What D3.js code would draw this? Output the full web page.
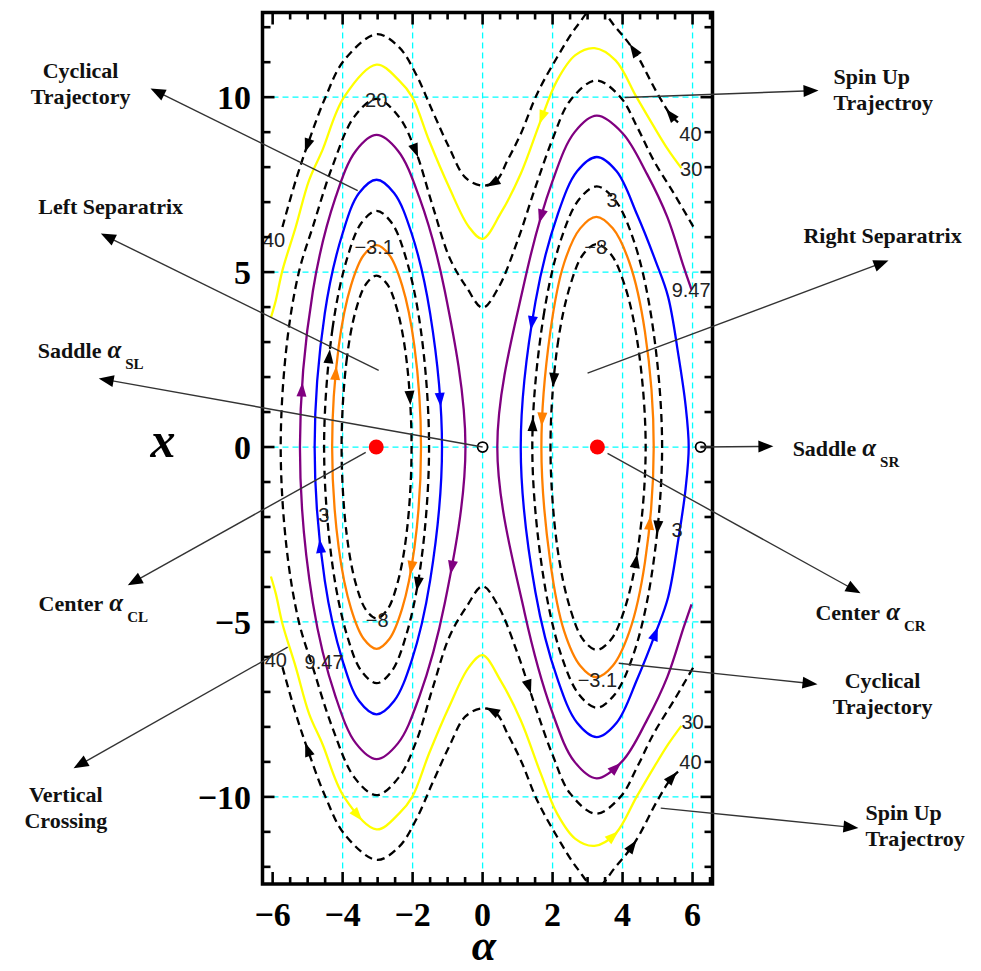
<!DOCTYPE html>
<html>
<head>
<meta charset="utf-8">
<title>Phase portrait</title>
<script src="https://cdn.jsdelivr.net/npm/d3@7/dist/d3.min.js"></script>
<style>
  body { margin: 0; background: #fff; }
  text { font-family: "Liberation Serif", "Times New Roman", serif; }
</style>
</head>
<body>
<script>
// ---- values, as [alpha, x] ----
let alphaTicks = [-6, -4, -2, 0, 2, 4, 6];
let alphaTickLabels = ['\u22126', '\u22124', '\u22122', '0', '2', '4', '6'];
let xTicks = [-10, -5, 0, 5, 10];
let xTickLabels = ['\u221210', '\u22125', '0', '5', '10'];
let gridAlpha = [-4, -2, 0, 2, 4, 6];
let gridX = [-10, -5, 0, 5, 10];

let centers = [[-3.04, 0], [3.28, 0]];
let saddles = [[0, 0], [6.23, 0]];

// left cell (closed)
let innerL = [[-4.03,0],[-3.89,2.45],[-3.62,3.92],[-3.33,4.66],[-3.03,4.9],[-2.73,4.66],[-2.44,3.92],[-2.17,2.45],[-2.03,0],[-2.17,-2.45],[-2.44,-3.92],[-2.73,-4.66],[-3.03,-4.9],[-3.33,-4.66],[-3.62,-3.92],[-3.89,-2.45]];
let orangeL = [[-4.30,0],[-4.11,2.89],[-3.76,4.62],[-3.40,5.48],[-3.03,5.77],[-2.66,5.48],[-2.30,4.62],[-1.95,2.89],[-1.76,0],[-1.95,-2.89],[-2.30,-4.62],[-2.66,-5.48],[-3.03,-5.77],[-3.40,-5.48],[-3.76,-4.62],[-4.11,-2.89]];
let dashed3L = [[-4.53,0],[-4.29,3.38],[-3.87,5.4],[-3.46,6.41],[-3.03,6.75],[-2.60,6.41],[-2.19,5.4],[-1.77,3.38],[-1.53,0],[-1.77,-3.38],[-2.19,-5.4],[-2.60,-6.41],[-3.03,-6.75],[-3.46,-6.41],[-3.87,-5.4],[-4.29,-3.38]];
let blueL = [[-4.80,0],[-4.51,3.82],[-4.0,6.11],[-3.53,7.26],[-3.03,7.64],[-2.53,7.26],[-2.03,6.11],[-1.50,3.82],[-1.16,0],[-1.50,-3.82],[-2.03,-6.11],[-2.53,-7.26],[-3.03,-7.64],[-3.53,-7.26],[-4.0,-6.11],[-4.51,-3.82]];
let purpleL = [[-5.22,0],[-4.85,4.46],[-4.2,7.14],[-3.62,8.47],[-3.03,8.92],[-2.42,8.47],[-1.81,7.14],[-1.08,4.46],[-0.49,0],[-1.08,-4.46],[-1.81,-7.14],[-2.42,-8.47],[-3.03,-8.92],[-3.62,-8.47],[-4.2,-7.14],[-4.85,-4.46]];

// right cell (closed)
let innerR = [[1.94,0],[2.14,2.9],[2.51,4.64],[2.875,5.51],[3.26,5.8],[3.665,5.51],[4.055,4.64],[4.44,2.9],[4.66,0],[4.44,-2.9],[4.055,-4.64],[3.665,-5.51],[3.26,-5.8],[2.875,-5.51],[2.51,-4.64],[2.14,-2.9]];
let orangeR = [[1.68,0],[1.935,3.29],[2.33,5.26],[2.79,6.25],[3.25,6.58],[3.72,6.25],[4.2,5.26],[4.64,3.29],[4.89,0],[4.64,-3.29],[4.2,-5.26],[3.72,-6.25],[3.25,-6.58],[2.79,-6.25],[2.33,-5.26],[1.935,-3.29]];
let dashed3R = [[1.42,0],[1.74,3.73],[2.25,5.96],[2.76,7.08],[3.26,7.45],[3.77,7.08],[4.3,5.96],[4.82,3.73],[5.13,0],[4.82,-3.73],[4.3,-5.96],[3.77,-7.08],[3.26,-7.45],[2.76,-7.08],[2.25,-5.96],[1.74,-3.73]];
let blueR = [[1.09,0],[1.51,4.15],[2.14,6.63],[2.70,7.88],[3.26,8.29],[3.83,7.88],[4.42,6.63],[4.95,5.3],[5.3,4.3],[5.6,2.6],[5.8,1.2],[5.89,0],[5.8,-1.2],[5.6,-2.6],[5.3,-4.3],[4.95,-5.3],[4.42,-6.63],[3.83,-7.88],[3.26,-8.29],[2.70,-7.88],[2.14,-6.63],[1.51,-4.15]];

// open curves
let purpleR = [[5.97,-4.5],[5.75,-5.14],[5.28,-6.57],[4.7,-7.8],[4.0,-8.97],[3.26,-9.47],[2.63,-9.0],[1.99,-7.58],[1.2,-4.735],[0.42,0],[1.2,4.735],[1.99,7.58],[2.63,9.0],[3.26,9.47],[4.0,8.97],[4.7,7.8],[5.28,6.57],[5.75,5.14],[5.97,4.5]];
let dashed20 = [[6.02,6.3],[5.47,7.24],[4.89,8.19],[4.42,9.14],[3.94,10.0],[3.24,10.48],[2.5,9.9],[2.0,8.8],[1.5,7.4],[1.0,5.9],[0.45,4.55],[0,3.98],[-0.45,4.55],[-0.94,5.4],[-1.43,6.9],[-1.91,8.45],[-2.4,9.45],[-3.03,9.95],[-3.66,9.45],[-4.3,8.0],[-4.85,6.3],[-5.25,5.0],[-5.6,2.9],[-5.77,0],[-5.6,-2.9],[-5.25,-5.0],[-4.85,-6.3],[-4.3,-8.0],[-3.66,-9.45],[-3.03,-9.95],[-2.4,-9.45],[-1.91,-8.45],[-1.43,-6.9],[-0.94,-5.4],[-0.45,-4.55],[0,-3.98],[0.45,-4.55],[1.0,-5.9],[1.5,-7.4],[2.0,-8.8],[2.5,-9.9],[3.24,-10.48],[3.94,-10.0],[4.42,-9.14],[4.89,-8.19],[5.47,-7.24],[6.02,-6.3]];
let yellowTop = [[-6.05,3.7],[-5.91,4.19],[-5.72,5.05],[-5.34,6.29],[-4.96,7.62],[-4.58,8.48],[-3.96,10.0],[-3.03,10.93],[-2.39,10.48],[-2.01,10.0],[-1.53,8.76],[-0.96,7.43],[-0.39,6.29],[0,5.95],[0.51,6.67],[1.09,7.81],[1.66,9.33],[2.13,10.48],[2.65,11.2],[3.2,11.4],[3.8,11.05],[4.4,10.0],[4.9,9.15],[5.3,8.5],[5.68,7.97]];
let yellowBot = [[-6.05,-3.7],[-5.91,-4.19],[-5.72,-5.05],[-5.34,-6.29],[-4.96,-7.62],[-4.58,-8.48],[-3.96,-10.0],[-3.03,-10.93],[-2.39,-10.48],[-2.01,-10.0],[-1.53,-8.76],[-0.96,-7.43],[-0.39,-6.29],[0,-5.95],[0.51,-6.67],[1.09,-7.81],[1.66,-9.33],[2.13,-10.48],[2.65,-11.2],[3.2,-11.4],[3.8,-11.05],[4.4,-10.0],[4.9,-9.15],[5.3,-8.5],[5.68,-7.97]];
let dashed40Top = [[-5.72,6.29],[-5.34,7.62],[-4.96,8.76],[-4.49,10.0],[-3.96,11.05],[-3.03,11.8],[-2.39,11.43],[-1.91,10.67],[-1.44,9.62],[-0.96,8.57],[-0.49,7.7],[0,7.47],[0.4,7.62],[0.71,8.19],[1.09,8.95],[1.56,10.1],[2.13,11.14],[2.71,12.05],[3.24,12.6],[3.8,12.0],[4.35,11.3],[4.97,10.15],[5.37,9.5],[5.62,9.25]];
let dashed40Bot = [[-5.72,-6.29],[-5.34,-7.62],[-4.96,-8.76],[-4.49,-10.0],[-3.96,-11.05],[-3.03,-11.8],[-2.39,-11.43],[-1.91,-10.67],[-1.44,-9.62],[-0.96,-8.57],[-0.49,-7.7],[0,-7.47],[0.4,-7.62],[0.71,-8.19],[1.09,-8.95],[1.56,-10.1],[2.13,-11.14],[2.71,-12.05],[3.24,-12.6],[3.8,-12.0],[4.35,-11.3],[4.97,-10.15],[5.37,-9.5],[5.62,-9.25]];

// direction marks: curve, alpha, x, rough direction of the tip
let curveArrows = [
	['dashed40Top', -4.96, 8.62, 'down'], ['dashed20', -1.91, 8.5, 'down'],
	['yellowTop', 1.75, 9.43, 'down'], ['purpleR', 1.66, 6.62, 'down'],
	['dashed40Top', 4.32, 11.33, 'up'], ['dashed40Top', 5.42, 9.52, 'up'],
	['dashed40Top', 0.32, 7.52, 'left'],
	['purpleL', -5.25, 1.62, 'up'], ['dashed3L', -4.49, 2.57, 'up'], ['orangeL', -4.25, 2.1, 'up'],
	['innerL', -2.06, 1.43, 'down'], ['blueL', -1.2, 1.38, 'down'], ['purpleL', -0.87, -3.43, 'down'],
	['orangeL', -2.06, -3.43, 'down'], ['dashed3L', -1.82, -3.9, 'down'], ['blueL', -4.72, -2.86, 'up'],
	['blueR', 1.42, 3.57, 'down'], ['innerR', 1.99, 1.95, 'down'], ['orangeR', 1.71, 0.81, 'down'],
	['dashed3R', 1.42, 0.62, 'up'], ['orangeR', 4.8, -2.19, 'up'], ['dashed3R', 5.13, -2.29, 'down'],
	['innerR', 4.37, -3.29, 'up'], ['blueR', 4.85, -5.33, 'up'], ['dashed20', 1.23, -6.86, 'down'],
	['dashed40Bot', 0.28, -7.57, 'left'], ['purpleR', 3.8, -9.19, 'right'], ['yellowBot', 3.8, -11.24, 'right'],
	['dashed40Bot', 4.28, -11.43, 'up'], ['dashed40Bot', 5.37, -9.43, 'up'],
	['dashed40Bot', -4.96, -8.66, 'up'], ['yellowBot', -3.72, -10.62, 'right']
];

// contour level labels: text, alpha, x
let contourLabels = [
	['20', -3.04, 9.93], ['40', -5.96, 5.91], ['\u22123.1', -3.1, 5.71],
	['40', 5.94, 8.95], ['30', 5.96, 7.95], ['3', 3.7, 7.05], ['\u22128', 3.23, 5.71], ['9.47', 5.96, 4.48],
	['3', -4.54, -1.95], ['3', 5.56, -2.38], ['\u22128', -3.01, -4.95], ['40', -5.91, -6.1],
	['9.47', -4.53, -6.14], ['\u22123.1', 3.28, -6.67], ['30', 6.0, -7.86], ['40', 5.94, -9.0]
];

// call-outs, anchored in plot units
let notes = [
	{ lines: ['Cyclical', 'Trajectory'], at: [-11.49, 10.56], anchor: 'middle', from: [-3.57, 7.33], to: [-9.49, 10.25] },
	{ lines: ['Left Separatrix'], at: [-10.63, 6.67], anchor: 'middle', from: [-2.97, 2.19], to: [-10.91, 6.1] },
	{ lines: ['Saddle'], sym: 'SL', at: [-12.71, 2.55], anchor: 'start', from: [0, 0], to: [-10.97, 1.96] },
	{ lines: ['Center'], sym: 'CL', at: [-12.69, -4.7], anchor: 'start', from: [-3.34, -0.15], to: [-10.14, -3.95] },
	{ lines: ['Vertical', 'Crossing'], at: [-11.91, -10.15], anchor: 'middle', from: [-5.57, -5.72], to: [-11.69, -9.18] },
	{ lines: ['Spin Up', 'Trajectroy'], at: [10.03, 10.39], anchor: 'start', from: [4.06, 9.99], to: [9.6, 10.19] },
	{ lines: ['Right Separatrix'], at: [9.17, 5.82], anchor: 'start', from: [3.0, 2.11], to: [11.6, 5.33] },
	{ lines: ['Saddle'], sym: 'SR', at: [8.86, -0.27], anchor: 'start', from: [6.23, 0], to: [8.31, 0.02] },
	{ lines: ['Center'], sym: 'CR', at: [9.51, -4.95], anchor: 'start', from: [3.57, -0.18], to: [10.8, -4.18] },
	{ lines: ['Cyclical', 'Trajectory'], at: [11.43, -6.89], anchor: 'middle', from: [3.89, -6.18], to: [9.57, -6.78] },
	{ lines: ['Spin Up', 'Trajectroy'], at: [10.94, -10.67], anchor: 'start', from: [5.09, -10.32], to: [10.74, -10.89] }
];

// ---- drawing ----
let W = 981, H = 971;
let box = { left: 262.5, right: 712.5, top: 12.5, bottom: 884 };

let svg = d3.select('body').append('svg').attr('width', W).attr('height', H);

let xScale = d3.scaleLinear().domain([-6.29, 6.57]).range([box.left, box.right]);
let yScale = d3.scaleLinear().domain([-12.49, 12.42]).range([box.bottom, box.top]);

svg.append('clipPath').attr('id', 'plotclip').append('rect')
	.attr('x', box.left).attr('y', box.top)
	.attr('width', box.right - box.left).attr('height', box.bottom - box.top);

let plot = svg.append('g').attr('clip-path', 'url(#plotclip)');

// cyan grid
plot.selectAll('line.gv').data(gridAlpha).enter().append('line').attr('class', 'gv')
	.attr('x1', d => xScale(d)).attr('x2', d => xScale(d))
	.attr('y1', box.top).attr('y2', box.bottom)
	.attr('stroke', '#00ffff').attr('stroke-width', 1.3).attr('stroke-dasharray', '6,4');
plot.selectAll('line.gh').data(gridX).enter().append('line').attr('class', 'gh')
	.attr('y1', d => yScale(d)).attr('y2', d => yScale(d))
	.attr('x1', box.left).attr('x2', box.right)
	.attr('stroke', '#00ffff').attr('stroke-width', 1.3).attr('stroke-dasharray', '6,4');

// curve styles
let curveList = [
	{ key: 'dashed40Top', pts: dashed40Top, color: '#000', dash: true },
	{ key: 'dashed40Bot', pts: dashed40Bot, color: '#000', dash: true },
	{ key: 'dashed20', pts: dashed20, color: '#000', dash: true },
	{ key: 'yellowTop', pts: yellowTop, color: '#ffff00' },
	{ key: 'yellowBot', pts: yellowBot, color: '#ffff00' },
	{ key: 'purpleL', pts: purpleL, color: '#800080', closed: true },
	{ key: 'purpleR', pts: purpleR, color: '#800080' },
	{ key: 'blueL', pts: blueL, color: '#0000ff', closed: true },
	{ key: 'blueR', pts: blueR, color: '#0000ff', closed: true },
	{ key: 'dashed3L', pts: dashed3L, color: '#000', dash: true, closed: true },
	{ key: 'dashed3R', pts: dashed3R, color: '#000', dash: true, closed: true },
	{ key: 'orangeL', pts: orangeL, color: '#ff8000', closed: true },
	{ key: 'orangeR', pts: orangeR, color: '#ff8000', closed: true },
	{ key: 'innerL', pts: innerL, color: '#000', dash: true, closed: true },
	{ key: 'innerR', pts: innerR, color: '#000', dash: true, closed: true }
];

let openLine = d3.line().x(d => xScale(d[0])).y(d => yScale(d[1])).curve(d3.curveCatmullRom.alpha(0.5));
let closedLine = d3.line().x(d => xScale(d[0])).y(d => yScale(d[1])).curve(d3.curveCatmullRomClosed.alpha(0.5));

let pathNodes = {}, pathColor = {};
curveList.forEach(function(c) {
	let p = plot.append('path').datum(c.pts)
		.attr('d', c.closed ? closedLine : openLine)
		.attr('fill', 'none')
		.attr('stroke', c.color)
		.attr('stroke-width', 2.3)
		.attr('stroke-dasharray', c.dash ? '8,5' : null);
	pathNodes[c.key] = p.node();
	pathColor[c.key] = c.color;
});

// arrowheads sitting on the curves
let dirVec = { up: [0, -1], down: [0, 1], left: [-1, 0], right: [1, 0] };
curveArrows.forEach(function(a) {
	let node = pathNodes[a[0]];
	let tx = xScale(a[1]), ty = yScale(a[2]);
	let L = node.getTotalLength(), best = 0, bd = Infinity;
	for (let s = 0; s <= L; s += 3) {
		let p = node.getPointAtLength(s);
		let d = (p.x - tx) * (p.x - tx) + (p.y - ty) * (p.y - ty);
		if (d < bd) { bd = d; best = s; }
	}
	for (let s = Math.max(0, best - 3); s <= Math.min(L, best + 3); s += 0.5) {
		let p = node.getPointAtLength(s);
		let d = (p.x - tx) * (p.x - tx) + (p.y - ty) * (p.y - ty);
		if (d < bd) { bd = d; best = s; }
	}
	let p = node.getPointAtLength(best);
	let p0 = node.getPointAtLength(Math.max(0, best - 4));
	let p1 = node.getPointAtLength(Math.min(L, best + 4));
	let vx = p1.x - p0.x, vy = p1.y - p0.y;
	let dv = dirVec[a[3]];
	if (vx * dv[0] + vy * dv[1] < 0) { vx = -vx; vy = -vy; }
	let ang = Math.atan2(vy, vx) * 180 / Math.PI;
	plot.append('path')
		.attr('d', 'M8,0L-6,-5L-6,5Z')
		.attr('fill', pathColor[a[0]])
		.attr('transform', 'translate(' + p.x + ',' + p.y + ') rotate(' + ang + ')');
});

// equilibria
plot.selectAll('circle.center').data(centers).enter().append('circle').attr('class', 'center')
	.attr('cx', d => xScale(d[0])).attr('cy', d => yScale(d[1])).attr('r', 7.5)
	.attr('fill', '#ff0000');
plot.selectAll('circle.saddle').data(saddles).enter().append('circle').attr('class', 'saddle')
	.attr('cx', d => xScale(d[0])).attr('cy', d => yScale(d[1])).attr('r', 5)
	.attr('fill', '#fff').attr('stroke', '#000').attr('stroke-width', 1.8);

// contour labels
plot.selectAll('text.lvl').data(contourLabels).enter().append('text').attr('class', 'lvl')
	.attr('x', d => xScale(d[1])).attr('y', d => yScale(d[2]))
	.attr('text-anchor', 'middle').attr('dominant-baseline', 'central')
	.style('font-family', '"Liberation Sans", Arial, sans-serif')
	.attr('font-size', 20).attr('fill', '#222')
	.text(d => d[0]);

// frame and ticks
svg.append('rect')
	.attr('x', box.left).attr('y', box.top)
	.attr('width', box.right - box.left).attr('height', box.bottom - box.top)
	.attr('fill', 'none').attr('stroke', '#000').attr('stroke-width', 3.5);

let ticks = svg.append('g').attr('stroke', '#000').attr('stroke-width', 2.6);
d3.range(-6, 6.51, 0.5).forEach(function(v) {
	let len = (v % 2 === 0) ? 12 : 7;
	let px = xScale(v);
	ticks.append('line').attr('x1', px).attr('x2', px).attr('y1', box.bottom).attr('y2', box.bottom - len);
	ticks.append('line').attr('x1', px).attr('x2', px).attr('y1', box.top).attr('y2', box.top + len);
});
d3.range(-12, 12.01, 1).forEach(function(v) {
	let len = (v % 5 === 0) ? 12 : 8;
	let py = yScale(v);
	ticks.append('line').attr('y1', py).attr('y2', py).attr('x1', box.left).attr('x2', box.left + len);
	ticks.append('line').attr('y1', py).attr('y2', py).attr('x1', box.right).attr('x2', box.right - len);
});

svg.selectAll('text.atick').data(alphaTicks).enter().append('text').attr('class', 'atick')
	.attr('x', d => xScale(d)).attr('y', 926)
	.attr('text-anchor', 'middle').attr('font-size', 34).attr('font-weight', 'bold')
	.text((d, i) => alphaTickLabels[i]);
svg.selectAll('text.xtick').data(xTicks).enter().append('text').attr('class', 'xtick')
	.attr('x', 251).attr('y', d => yScale(d) + 12)
	.attr('text-anchor', 'end').attr('font-size', 34).attr('font-weight', 'bold')
	.text((d, i) => xTickLabels[i]);

// axis titles
svg.append('text').attr('x', 484).attr('y', 960).attr('text-anchor', 'middle')
	.attr('font-size', 44).attr('font-weight', 'bold').style('font-style', 'italic').text('\u03b1');
svg.append('text').attr('x', 163).attr('y', 457).attr('text-anchor', 'middle')
	.attr('font-size', 50).attr('font-weight', 'bold').style('font-style', 'italic').text('x');

// call-outs
let ann = svg.append('g');
notes.forEach(function(n) {
	let x1 = xScale(n.from[0]), y1 = yScale(n.from[1]);
	let x2 = xScale(n.to[0]), y2 = yScale(n.to[1]);
	let ang = Math.atan2(y2 - y1, x2 - x1);
	let hl = 14;
	ann.append('line')
		.attr('x1', x1).attr('y1', y1)
		.attr('x2', x2 - hl * Math.cos(ang)).attr('y2', y2 - hl * Math.sin(ang))
		.attr('stroke', '#333').attr('stroke-width', 1.4);
	ann.append('path').attr('d', 'M0,0L-15,-6L-15,6Z').attr('fill', '#000')
		.attr('transform', 'translate(' + x2 + ',' + y2 + ') rotate(' + (ang * 180 / Math.PI) + ')');

	let tx = xScale(n.at[0]), ty = yScale(n.at[1]);
	let t = ann.append('text').attr('x', tx).attr('y', ty)
		.attr('text-anchor', n.anchor).attr('font-size', 22).attr('font-weight', 'bold').attr('fill', '#111');
	n.lines.forEach(function(s, i) {
		t.append('tspan').attr('x', tx).attr('dy', i ? 26 : 0).text(s);
	});
	if (n.sym) {
		t.append('tspan').attr('dx', 6).attr('font-size', 25).style('font-style', 'italic').text('\u03b1');
		t.append('tspan').attr('dx', 4).attr('dy', 11).attr('font-size', 15).text(n.sym);
	}
});
</script>
</body>
</html>
